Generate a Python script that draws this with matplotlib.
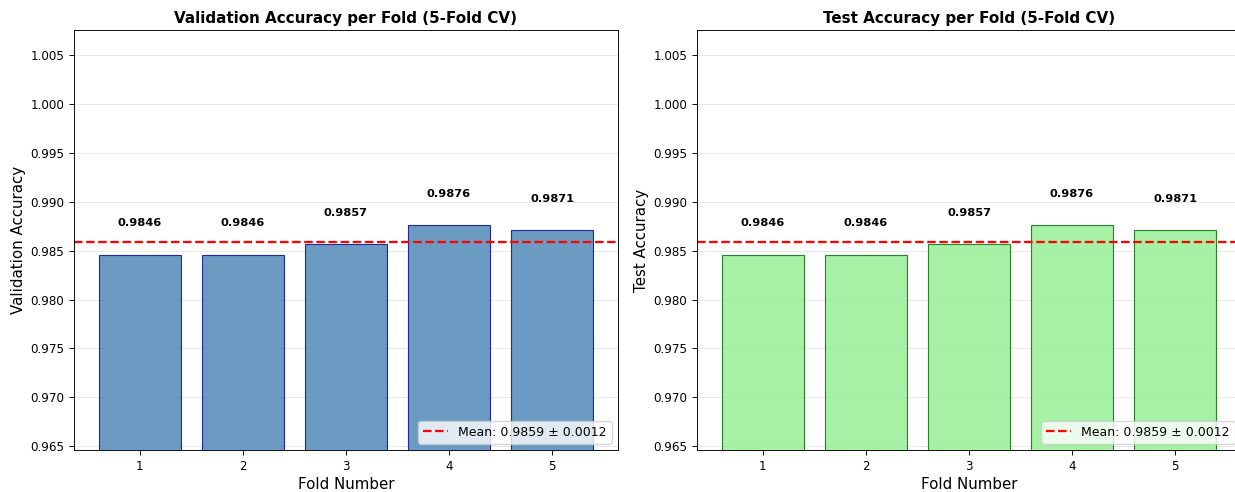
import matplotlib
matplotlib.use("Agg")
import matplotlib.pyplot as plt
import numpy as np

folds = [1, 2, 3, 4, 5]
val_acc = [0.9846, 0.9846, 0.9857, 0.9876, 0.9871]
test_acc = [0.9846, 0.9846, 0.9857, 0.9876, 0.9871]
mean_label = "Mean: 0.9859 ± 0.0012"
mean_val = 0.9859

s = 0.823
plt.rcParams.update({
    "axes.linewidth": 0.8 * s,
    "xtick.major.width": 0.8 * s,
    "ytick.major.width": 0.8 * s,
    "xtick.major.size": 3.5,
    "ytick.major.size": 3.5,
    "xtick.labelsize": 8.6,
    "ytick.labelsize": 8.6,
    "grid.linewidth": 0.8 * s,
})

fig = plt.figure(figsize=(12.35, 4.92), dpi=100)
ax1 = fig.add_axes([74/1235, 42/492, 544/1235, 420/492])
ax2 = fig.add_axes([697/1235, 42/492, 544/1235, 420/492])

specs = [
    (ax1, val_acc, "steelblue", "navy", "Validation Accuracy", "Validation Accuracy per Fold (5-Fold CV)"),
    (ax2, test_acc, "lightgreen", "darkgreen", "Test Accuracy", "Test Accuracy per Fold (5-Fold CV)"),
]
for ax, vals, fc, ec, ylab, title in specs:
    ax.bar(folds, vals, width=0.8, color=fc, alpha=0.8, edgecolor=ec, linewidth=1 * s)
    ax.axhline(mean_val, color="red", linestyle="--", linewidth=2 * s, label=mean_label)
    for f, v in zip(folds, vals):
        ax.text(f, v + 0.0027, f"{v:.4f}", ha="center", va="bottom", fontsize=8.2, fontweight="bold")
    ax.set_ylim(min(vals) - 0.02, max(vals) + 0.02)
    ax.set_xticks(folds)
    ax.set_xlabel("Fold Number", fontsize=10.8, labelpad=4 * s)
    ax.set_ylabel(ylab, fontsize=10.8, labelpad=4 * s)
    ax.set_title(title, fontsize=10.9, fontweight="bold", pad=6 * s)
    ax.grid(axis="y", alpha=0.3)
    ax.set_axisbelow(True)
    ax.legend(loc="lower right", fontsize=9)

fig.savefig("out.png", dpi=100)
